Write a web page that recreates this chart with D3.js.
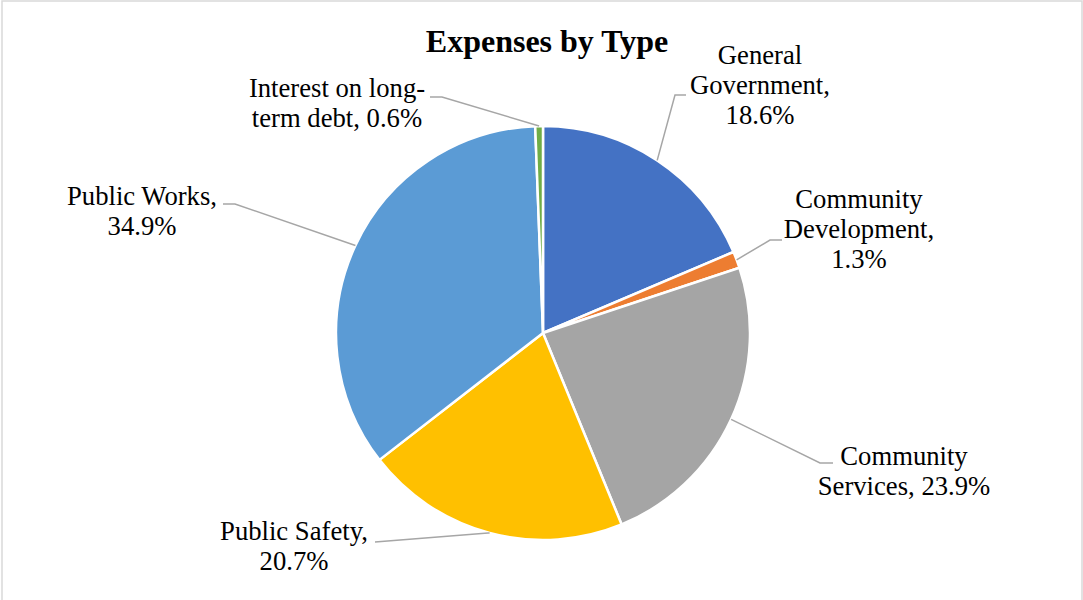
<!DOCTYPE html>
<html>
<head>
<meta charset="utf-8">
<script src="https://cdn.jsdelivr.net/npm/d3@7"></script>
<style>
  body { margin: 0; background: #fff; }
</style>
</head>
<body>
<svg id="chart" width="1083" height="600"></svg>
<script>
// data
const categories = ["General Government", "Community Development", "Community Services",
                    "Public Safety", "Public Works", "Interest on long-term debt"];
const shares = [18.6, 1.3, 23.9, 20.7, 34.9, 0.6];
const labelLines = [
  ["General", "Government,", "18.6%"],
  ["Community", "Development,", "1.3%"],
  ["Community", "Services, 23.9%"],
  ["Public Safety,", "20.7%"],
  ["Public Works,", "34.9%"],
  ["Interest on long-", "term debt, 0.6%"]
];
const colors = ["#4472C4", "#ED7D31", "#A5A5A5", "#FFC000", "#5B9BD5", "#70AD47"];

// label layout (elbow of the leader line, end of the leader, text centre + first baseline)
const labelLayout = [
  { elbow: [675, 95],  end: [686, 95],  x: 760, y: 64 },
  { elbow: [770, 240], end: [782, 240], x: 859, y: 208 },
  { elbow: [820, 463], end: [833, 463], x: 904, y: 465 },
  { elbow: [488, 533], end: [375, 542], x: 294, y: 540 },
  { elbow: [235, 204], end: [223, 204], x: 142, y: 205 },
  { elbow: [442, 97],  end: [430, 97],  x: 337, y: 97 }
];

const serif = "'Liberation Serif', 'Times New Roman', serif";
const width = 1083, height = 600;
const cx = 543, cy = 333, radius = 207;
const lineGap = 30;

const svg = d3.select('#chart');

svg.append('rect')
  .attr('x', 2).attr('y', 1)
  .attr('width', width - 3).attr('height', height + 5)
  .style('fill', 'white').style('stroke', '#d9d9d9').style('stroke-width', 1.5);

svg.append('text')
  .attr('x', 547).attr('y', 52)
  .style('font-family', serif)
  .style('text-anchor', 'middle')
  .style('font-size', '32px').style('font-weight', 'bold')
  .text("Expenses by Type");

const data = categories.map((c, i) => ({ name: c, value: shares[i], i }));

const pie = d3.pie().value(d => d.value).sort(null).startAngle(0).endAngle(2 * Math.PI);
const arc = d3.arc().innerRadius(0).outerRadius(radius);
const arcs = pie(data);

const g = svg.append('g').attr('transform', `translate(${cx},${cy})`);

g.selectAll('path.slice')
  .data(arcs)
  .enter()
  .append('path')
  .attr('class', 'slice')
  .attr('d', arc)
  .style('fill', d => colors[d.data.i])
  .style('stroke', 'white')
  .style('stroke-width', 2.5)
  .style('stroke-linejoin', 'round');

// leader lines start on the rim at the slice's mid angle
arcs.forEach(d => {
  const mid = (d.startAngle + d.endAngle) / 2;
  const px = cx + radius * Math.sin(mid);
  const py = cy - radius * Math.cos(mid);
  const lay = labelLayout[d.data.i];
  svg.append('polyline')
    .attr('points', [[px, py], lay.elbow, lay.end].map(p => p.join(',')).join(' '))
    .style('fill', 'none')
    .style('stroke', '#a6a6a6')
    .style('stroke-width', 1.5);

  const t = svg.append('text')
    .attr('x', lay.x).attr('y', lay.y)
    .style('font-family', serif)
    .style('text-anchor', 'middle')
    .style('font-size', '26.67px');
  labelLines[d.data.i].forEach((ln, k) => {
    t.append('tspan').attr('x', lay.x).attr('y', lay.y + k * lineGap).text(ln);
  });
});
</script>
</body>
</html>
